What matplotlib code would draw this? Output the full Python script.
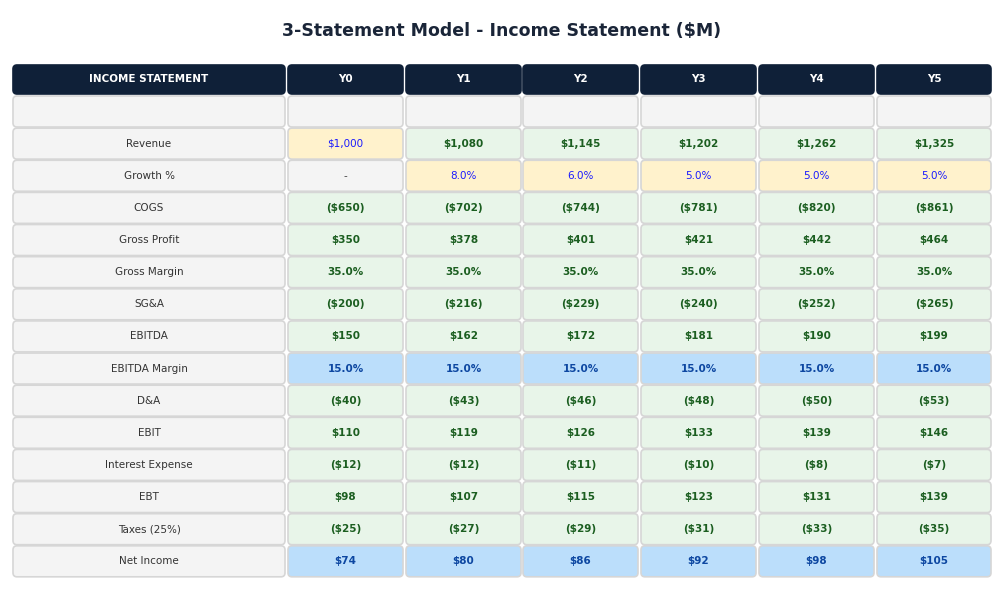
import matplotlib
matplotlib.use("Agg")
import matplotlib.pyplot as plt
from matplotlib.patches import FancyBboxPatch

columns = ["INCOME STATEMENT", "Y0", "Y1", "Y2", "Y3", "Y4", "Y5"]
row_labels = ["", "Revenue", "Growth %", "COGS", "Gross Profit", "Gross Margin", "SG&A", "EBITDA",
              "EBITDA Margin", "D&A", "EBIT", "Interest Expense", "EBT", "Taxes (25%)", "Net Income"]
values = [
    ["", "", "", "", "", ""],
    ["$1,000", "$1,080", "$1,145", "$1,202", "$1,262", "$1,325"],
    ["-", "8.0%", "6.0%", "5.0%", "5.0%", "5.0%"],
    ["($650)", "($702)", "($744)", "($781)", "($820)", "($861)"],
    ["$350", "$378", "$401", "$421", "$442", "$464"],
    ["35.0%", "35.0%", "35.0%", "35.0%", "35.0%", "35.0%"],
    ["($200)", "($216)", "($229)", "($240)", "($252)", "($265)"],
    ["$150", "$162", "$172", "$181", "$190", "$199"],
    ["15.0%", "15.0%", "15.0%", "15.0%", "15.0%", "15.0%"],
    ["($40)", "($43)", "($46)", "($48)", "($50)", "($53)"],
    ["$110", "$119", "$126", "$133", "$139", "$146"],
    ["($12)", "($12)", "($11)", "($10)", "($8)", "($7)"],
    ["$98", "$107", "$115", "$123", "$131", "$139"],
    ["($25)", "($27)", "($29)", "($31)", "($33)", "($35)"],
    ["$74", "$80", "$86", "$92", "$98", "$105"],
]
# cell style: g=grey, i=input, f=formula, h=highlight
styles = [
    "gggggg", "ifffff", "giiiii", "ffffff", "ffffff", "ffffff", "ffffff", "ffffff",
    "hhhhhh", "ffffff", "ffffff", "ffffff", "ffffff", "ffffff", "hhhhhh",
]
style_map = {
    "g": ("#f4f4f4", "#444444", "normal"),
    "i": ("#fff2cc", "#1a1aff", "normal"),
    "f": ("#e8f5e9", "#1b5e20", "bold"),
    "h": ("#bbdefb", "#0d47a1", "bold"),
}

fig = plt.figure(figsize=(10.05, 6.03), dpi=100)
ax = fig.add_axes([0, 0, 1, 1])
ax.set_xlim(0, 1005)
ax.set_ylim(603, 0)
ax.axis("off")

col_x = [13, 288, 406, 523, 641, 759, 877]
col_w = [272, 115, 115, 115, 115, 115, 114]

def cell(x, y, w, h, fc, ec):
    ax.add_patch(FancyBboxPatch((x + 3, y + 3), w - 6, h - 6,
                                boxstyle="round,pad=3,rounding_size=4",
                                fc=fc, ec=ec, lw=1.2))

ax.text(502, 31, "3-Statement Model - Income Statement ($M)", ha="center", va="center",
        fontsize=12.5, fontweight="bold", color="#1a2538")

hy, hh = 65, 29
for j, c in enumerate(columns):
    cell(col_x[j], hy, col_w[j], hh, "#0f2038", "#0f2038")
    ax.text(col_x[j] + col_w[j] / 2, hy + hh / 2, c, ha="center", va="center",
            fontsize=7.5, fontweight="bold", color="white")

y0, pitch, rh = 96, 32.13, 31
for i, lab in enumerate(row_labels):
    y = y0 + i * pitch
    cell(col_x[0], y, col_w[0], rh, "#f4f4f4", "#d6d6d6")
    ax.text(col_x[0] + col_w[0] / 2, y + rh / 2, lab, ha="center", va="center",
            fontsize=7.5, color="#333333")
    for j in range(6):
        fc, tc, fw = style_map[styles[i][j]]
        cell(col_x[j + 1], y, col_w[j + 1], rh, fc, "#d6d6d6")
        ax.text(col_x[j + 1] + col_w[j + 1] / 2, y + rh / 2, values[i][j], ha="center",
                va="center", fontsize=7.5, color=tc, fontweight=fw)

fig.savefig("out.png", dpi=100, facecolor="white")
